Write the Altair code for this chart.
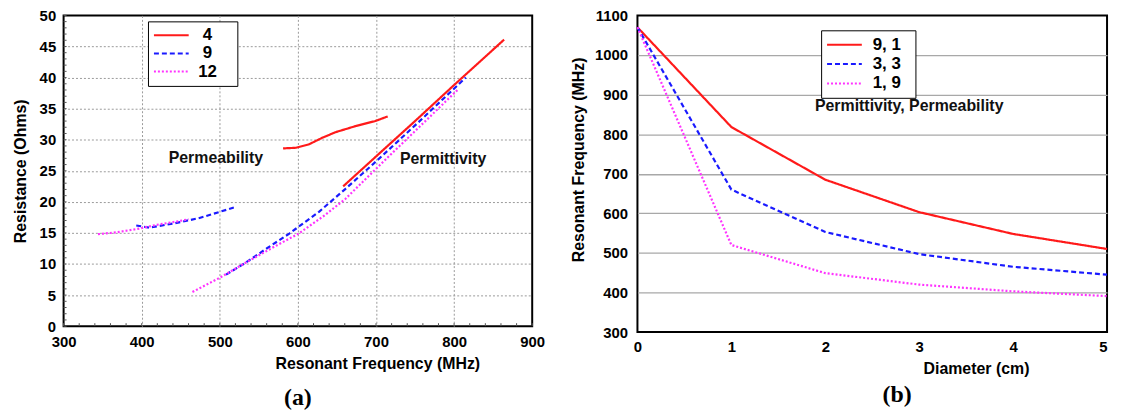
import altair as alt
import pandas as pd

FONT = "Liberation Sans"
SERIF = "Liberation Serif"

# ---------------- panel (a): Resistance vs resonant frequency ----------------
series_a = ["4", "9", "12"]
colors = ["#ff1a1a", "#1a1aff", "#ff33ff"]
dashes = [[1, 0], [5, 3], [2, 2]]

red_perm_x = [581, 597, 614, 631, 648, 674, 699, 715]
red_perm_y = [28.6, 28.7, 29.25, 30.3, 31.2, 32.2, 33.0, 33.75]
red_pmt_x = [658, 700, 750, 800, 864]
red_pmt_y = [22.5, 27.3, 33.0, 38.8, 46.1]

blue_perm_x = [393, 410, 440, 474, 521]
blue_perm_y = [16.2, 15.85, 16.5, 17.4, 19.2]
blue_pmt_x = [508, 533, 560, 589, 627, 661, 700, 750, 815]
blue_pmt_y = [8.3, 10.2, 12.5, 14.9, 18.4, 22.1, 26.5, 32.3, 40.0]

mag_perm_x = [344, 368, 397, 419, 448, 460]
mag_perm_y = [14.8, 15.1, 15.7, 16.3, 16.9, 17.2]
mag_pmt_x = [465, 500, 533, 570, 601, 635, 661, 695, 722, 746, 806]
mag_pmt_y = [5.5, 7.8, 10.2, 12.8, 14.9, 17.9, 20.5, 24.7, 28.0, 30.9, 38.2]

freq_ticks = [300, 400, 500, 600, 700, 800, 900]
res_ticks = [0, 5, 10, 15, 20, 25, 30, 35, 40, 45, 50]
freq_minor = list(range(300, 901, 20))
res_minor = list(range(0, 51, 1))

ann_a_text = ["Permeability", "Permittivity"]
ann_a_x = [495, 786]
ann_a_y = [27.0, 26.9]

# ---------------- panel (b): Resonant frequency vs diameter ----------------
series_b = ["9, 1", "3, 3", "1, 9"]
diameter = [0, 1, 2, 3, 4, 5]
f_9_1 = [1070, 818, 685, 603, 548, 510]
f_3_3 = [1070, 660, 553, 497, 465, 445]
f_1_9 = [1070, 520, 449, 420, 403, 391]
diam_ticks = [0, 1, 2, 3, 4, 5]
fr_ticks = [300, 400, 500, 600, 700, 800, 900, 1000, 1100]

# ---------------- build tables ----------------
rows = []
for s, b, xs, ys in [
    ("4", "4p", red_perm_x, red_perm_y), ("4", "4e", red_pmt_x, red_pmt_y),
    ("9", "9p", blue_perm_x, blue_perm_y), ("9", "9e", blue_pmt_x, blue_pmt_y),
    ("12", "12p", mag_perm_x, mag_perm_y), ("12", "12e", mag_pmt_x, mag_pmt_y),
]:
    for x, y in zip(xs, ys):
        rows.append({"series": s, "branch": b, "freq": x, "res": y})
df_a = pd.DataFrame(rows)

rows_b = []
for s, ys in zip(series_b, [f_9_1, f_3_3, f_1_9]):
    for x, y in zip(diameter, ys):
        rows_b.append({"series": s, "diam": x, "fr": y})
df_b = pd.DataFrame(rows_b)

W_A, H_A = 472, 313
W_B, H_B = 473, 319

lab = dict(labelFont=FONT, labelFontSize=15, labelFontWeight="bold", labelColor="black",
           titleFont=FONT, titleFontSize=16, titleFontWeight="bold", titleColor="black",
           domain=False, ticks=False, tickSize=0, labelOverlap=False, labelFlush=False)


def edge_free(lo, hi, color):
    return {"expr": f"(datum.value == {lo} || datum.value == {hi}) ? 'rgba(0,0,0,0)' : '{color}'"}


def legend(x, y, pad, clip, rowpad, extra, align="left", offset=10):
    return alt.Legend(title="\u00a0", titleOrient="right", titleFontSize=2, titlePadding=extra,
                      orient="none", legendX=x, legendY=y, clipHeight=clip,
                      symbolType="stroke", symbolSize=1225, symbolStrokeWidth=2,
                      labelFont=FONT, labelFontSize=17, labelFontWeight="bold",
                      labelColor="black", labelOffset=offset, labelAlign=align,
                      strokeColor="black", padding=pad, rowPadding=rowpad,
                      fillColor="white")


leg_a = legend(85, 6, 5, 18, 0.3, 16, align="center", offset=18)
leg_b = legend(185, 15, 5, 19, 0.5, 10)

axis_xa = alt.Axis(values=freq_ticks, title="Resonant Frequency (MHz)", grid=True,
                   gridDash=[2, 2], gridColor=edge_free(300, 900, "#9a9a9a"), labelPadding=8,
                   titleX=316, titleY=30, titleAlign="center", titleBaseline="top", **lab)
axis_ya = alt.Axis(values=res_ticks, title="Resistance (Ohms)", grid=True,
                   gridDash=[2, 2], gridColor=edge_free(0, 50, "#9a9a9a"), labelPadding=8,
                   titlePadding=11, **lab)
scale_xa = alt.Scale(domain=[300, 900], nice=False, zero=False)
scale_ya = alt.Scale(domain=[0, 50], nice=False)


def xa(field="freq"):
    return alt.X(f"{field}:Q", scale=scale_xa, axis=axis_xa)


def ya(field="res"):
    return alt.Y(f"{field}:Q", scale=scale_ya, axis=axis_ya)


lines_a = alt.Chart(df_a).mark_line(strokeWidth=2.2).encode(
    x=xa(), y=ya(),
    color=alt.Color("series:N", scale=alt.Scale(domain=series_a, range=colors), legend=leg_a),
    strokeDash=alt.StrokeDash("series:N", scale=alt.Scale(domain=series_a, range=dashes), legend=leg_a),
    detail="branch:N",
)

minor_x = alt.Chart(pd.DataFrame({"freq": freq_minor})).mark_rule(color="#555555", strokeWidth=1).encode(
    x=xa(), y=alt.value(H_A), y2=alt.value(H_A - 3))
minor_y = alt.Chart(pd.DataFrame({"res": res_minor})).mark_rule(color="#555555", strokeWidth=1).encode(
    y=ya(), x=alt.value(0), x2=alt.value(3))

text_a = alt.Chart(pd.DataFrame({"t": ann_a_text, "freq": ann_a_x, "res": ann_a_y})).mark_text(
    font=FONT, fontSize=16, fontWeight="bold", color="#111111", align="center", baseline="middle"
).encode(x=xa(), y=ya(), text="t:N")

chart_a = alt.layer(lines_a, minor_x, minor_y, text_a).properties(
    width=W_A, height=H_A,
    title=alt.TitleParams("(a)", orient="bottom", font=SERIF, fontSize=24, fontWeight="bold",
                          color="black", offset=14, anchor="middle"))

# ---------------- chart b ----------------
axis_xb = alt.Axis(values=diam_ticks, title="Diameter (cm)", grid=False, labelPadding=8,
                   format="d", titleX=341, titleY=29, titleAlign="center", titleBaseline="top",
                   labelAlign={"expr": "datum.value >= 5 ? 'right' : 'center'"}, **lab)
axis_yb = alt.Axis(values=fr_ticks, title="Resonant Frequency (MHz)", grid=True, format="d",
                   gridColor=edge_free(300, 1100, "#a8a8a8"), gridWidth=1.3, labelPadding=10,
                   titleX=-51, titleY=145, titleAlign="center", titleBaseline="bottom",
                   titleAngle=270, **lab)
scale_xb = alt.Scale(domain=[0, 5], nice=False)
scale_yb = alt.Scale(domain=[300, 1100], nice=False, zero=False)

lines_b = alt.Chart(df_b).mark_line(strokeWidth=2.2).encode(
    x=alt.X("diam:Q", scale=scale_xb, axis=axis_xb),
    y=alt.Y("fr:Q", scale=scale_yb, axis=axis_yb),
    color=alt.Color("series:N", scale=alt.Scale(domain=series_b, range=colors), legend=leg_b),
    strokeDash=alt.StrokeDash("series:N", scale=alt.Scale(domain=series_b, range=dashes), legend=leg_b),
)

text_b = alt.Chart(pd.DataFrame({"t": ["Permittivity, Permeability"], "diam": [1.89], "fr": [871]})).mark_text(
    font=FONT, fontSize=16, fontWeight="bold", color="#111111", align="left", baseline="middle"
).encode(x=alt.X("diam:Q", scale=scale_xb, axis=axis_xb),
         y=alt.Y("fr:Q", scale=scale_yb, axis=axis_yb), text="t:N")

chart_b = alt.layer(lines_b, text_b).properties(
    width=W_B, height=H_B,
    title=alt.TitleParams("(b)", orient="bottom", font=SERIF, fontSize=24, fontWeight="bold",
                          color="black", offset=6, anchor="middle", dx=25))

chart = alt.hconcat(chart_a, chart_b, spacing=24).resolve_scale(
    color="independent", strokeDash="independent", x="independent", y="independent"
).resolve_legend(color="independent", strokeDash="independent").properties(
    padding={"left": 3, "top": -2, "right": 0, "bottom": 0},
    background="white",
).configure_view(stroke="#000000", strokeWidth=2, strokeOpacity=1)

chart.save("out.html", embed_options={"renderer": "svg", "actions": False})
